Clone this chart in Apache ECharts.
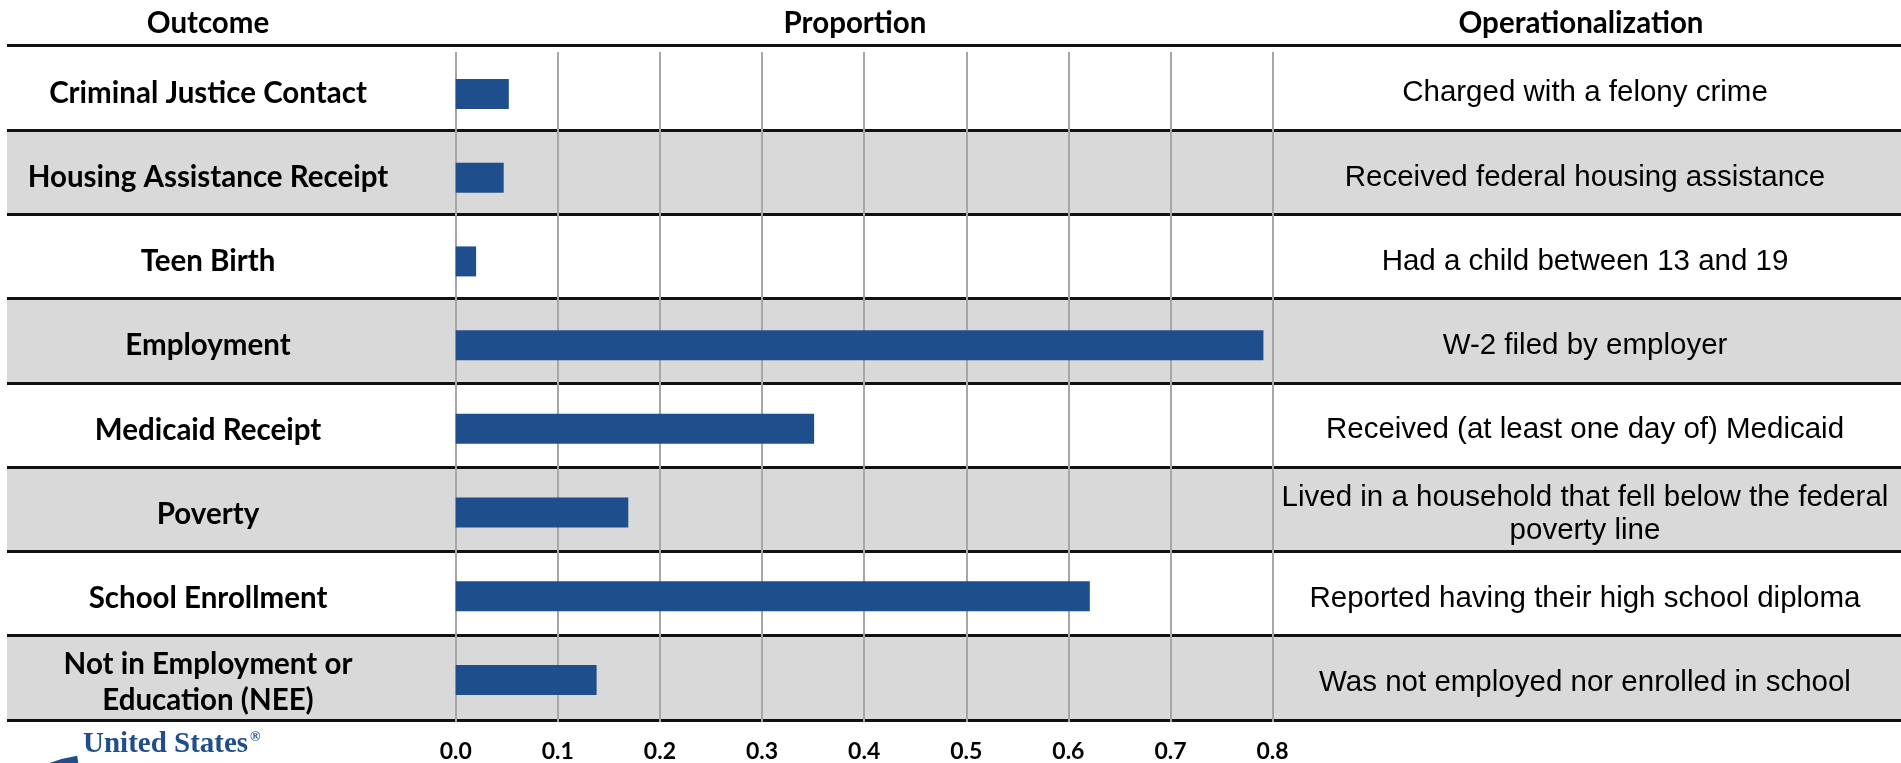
<!DOCTYPE html>
<html>
<head>
<meta charset="utf-8">
<script src="https://cdn.jsdelivr.net/npm/echarts@6/dist/echarts.min.js"></script>
<style>
  html, body { margin: 0; padding: 0; background: #ffffff; }
  #chart { width: 1901px; height: 763px; }
</style>
</head>
<body>
<div id="chart"></div>
<script>
// Outcome names (left column), one per table row
const outcomes = [
  'Criminal Justice Contact',
  'Housing Assistance Receipt',
  'Teen Birth',
  'Employment',
  'Medicaid Receipt',
  'Poverty',
  'School Enrollment',
  'Not in Employment or\nEducation (NEE)'
];

// Share of the sample with each outcome
const proportions = [0.052, 0.047, 0.020, 0.791, 0.351, 0.169, 0.621, 0.138];

// How each outcome is measured (right column)
const operationalizations = [
  'Charged with a felony crime',
  'Received federal housing assistance',
  'Had a child between 13 and 19',
  'W-2 filed by employer',
  'Received (at least one day of) Medicaid',
  'Lived in a household that fell below the federal\npoverty line',
  'Reported having their high school diploma',
  'Was not employed nor enrolled in school'
];

// Proportion axis ticks: 0.0 to 0.8 every 0.1
const tickMin = 0.0;
const tickMax = 0.8;
const tickStep = 0.1;

// Column headings
const headers = ['Outcome', 'Proportion', 'Operationalization'];

const W = 1901, H = 763;
const BOLD_FONT = 'Lato';
const BODY_FONT = 'Liberation Sans';
const BAR_BLUE = '#1f4e8c';

// Table rows span the full width; the bar plot sits in the middle column.
// Row text sits a few pixels below the geometric row centre.
const tableBox = { left: 7, right: 0, top: 45.7, bottom: 43 };
const textBox = { left: 7, right: 0, top: 51, bottom: 38 };
const plotBox = { left: 455.7, right: W - 1272.6, top: 52.1, bottom: 41.1 };

const headerX = [208, 855, 1581];
const leftTextX = 208;
const rightTextX = 1585;

const chart = echarts.init(document.getElementById('chart'), null, { renderer: 'canvas' });

const hiddenParts = {
  axisLine: { show: false },
  axisTick: { show: false },
  splitLine: { show: false },
  splitArea: { show: false }
};

const option = {
  animation: false,
  backgroundColor: '#ffffff',
  grid: [
    Object.assign({ containLabel: false }, tableBox),
    Object.assign({ containLabel: false }, plotBox),
    Object.assign({ containLabel: false }, textBox)
  ],
  xAxis: [
    { gridIndex: 0, type: 'value', min: 0, max: 1, show: false },
    {
      gridIndex: 1,
      type: 'value',
      min: tickMin,
      max: tickMax,
      interval: tickStep,
      z: 2,
      axisLine: { show: false },
      axisTick: { show: false },
      splitLine: { show: true, lineStyle: { color: '#a6a6a6', width: 2 } },
      axisLabel: {
        margin: 18,
        color: '#000000',
        fontFamily: BOLD_FONT,
        fontWeight: 'bold',
        fontSize: 23,
        formatter: v => v.toFixed(1)
      }
    },
    { gridIndex: 2, type: 'value', min: 0, max: 1, show: false }
  ],
  yAxis: [
    {
      // table rows: banding and black rules
      gridIndex: 0,
      type: 'category',
      data: outcomes,
      inverse: true,
      z: 0,
      axisLine: { show: false },
      axisTick: { show: false },
      axisLabel: { show: false },
      splitLine: { show: true, lineStyle: { color: '#111111', width: 3 } },
      splitArea: { show: true, areaStyle: { color: ['#ffffff', '#d9d9d9'] } }
    },
    Object.assign({
      // outcome names, left column
      gridIndex: 2,
      type: 'category',
      data: outcomes,
      inverse: true,
      z: 1,
      axisLabel: {
        margin: -(leftTextX - textBox.left),
        align: 'center',
        color: '#000000',
        fontFamily: BOLD_FONT,
        fontWeight: 'bold',
        fontSize: 29.5,
        lineHeight: 36
      }
    }, hiddenParts),
    Object.assign({
      // operationalization text, right column
      gridIndex: 2,
      type: 'category',
      position: 'right',
      data: operationalizations,
      inverse: true,
      z: 1,
      axisLabel: {
        margin: -(W - rightTextX),
        align: 'center',
        color: '#000000',
        fontFamily: BODY_FONT,
        fontSize: 29.5,
        lineHeight: 33
      }
    }, hiddenParts),
    {
      gridIndex: 1,
      type: 'category',
      data: outcomes,
      inverse: true,
      show: false
    }
  ],
  series: [
    {
      type: 'bar',
      xAxisIndex: 1,
      yAxisIndex: 3,
      data: proportions,
      barWidth: 30,
      z: 4,
      itemStyle: { color: BAR_BLUE },
      silent: true
    }
  ],
  graphic: headers.map((h, i) => ({
    type: 'text',
    x: headerX[i],
    y: 23,
    z: 10,
    style: {
      text: h,
      align: 'center',
      verticalAlign: 'middle',
      fontFamily: BOLD_FONT,
      fontWeight: 'bold',
      fontSize: 29.5,
      fill: '#000000'
    }
  })).concat([
    // agency logo, cut off at the bottom edge
    {
      type: 'sector',
      z: 10,
      shape: {
        cx: 100, cy: 900, r0: 126, r: 146,
        startAngle: 244 * Math.PI / 180,
        endAngle: 261 * Math.PI / 180,
        clockwise: true
      },
      style: { fill: BAR_BLUE }
    },
    {
      type: 'text',
      x: 83,
      y: 745,
      z: 10,
      style: {
        text: 'United States',
        align: 'left',
        verticalAlign: 'middle',
        fontFamily: 'Liberation Serif',
        fontWeight: 'bold',
        fontSize: 29,
        fill: BAR_BLUE
      }
    },
    {
      type: 'text',
      x: 250,
      y: 737,
      z: 10,
      style: {
        text: '®',
        align: 'left',
        verticalAlign: 'middle',
        fontFamily: 'Liberation Serif',
        fontWeight: 'bold',
        fontSize: 14,
        fill: BAR_BLUE
      }
    }
  ])
};

chart.setOption(option);
</script>
</body>
</html>
